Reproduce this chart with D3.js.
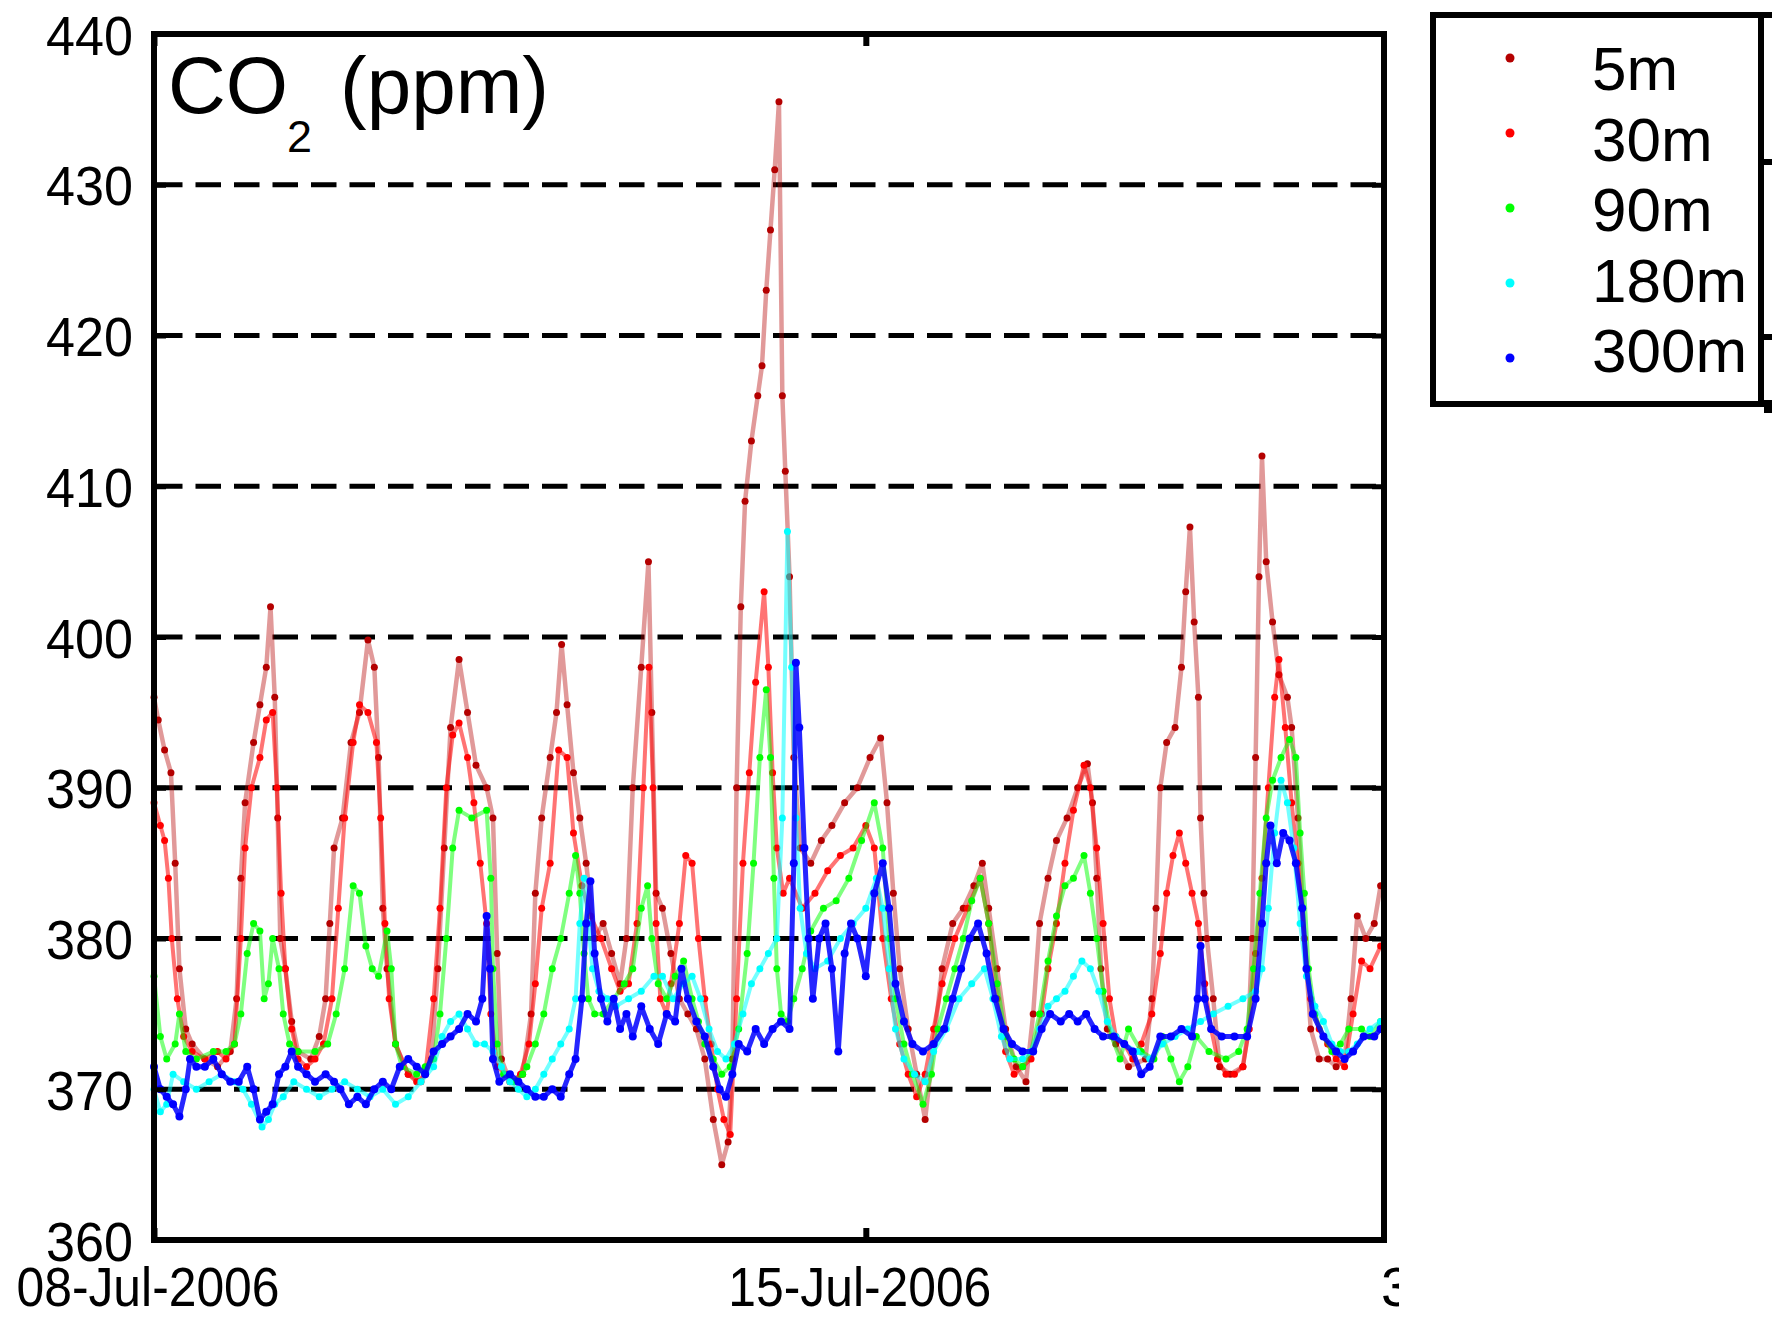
<!DOCTYPE html>
<html>
<head>
<meta charset="utf-8">
<script src="https://cdn.jsdelivr.net/npm/d3@7/dist/d3.min.js"></script>
<style>
body { margin: 0; background: #fff; }
svg { display: block; }
</style>
</head>
<body>
<svg id="chart" width="1787" height="1326"></svg>
<script>
// series names / colours (legend order)
var names = ["5m", "30m", "90m", "180m", "300m"];
var colors = ["#b40000", "#ff0000", "#00ff00", "#00ffff", "#0000ff"];

// axis ticks
var yTicks = [360, 370, 380, 390, 400, 410, 420, 430, 440];
var gridTicks = [370, 380, 390, 400, 410, 420, 430];
var xTickDays = ["2006-07-08", "2006-07-15"];

// CO2 readings: [hours since 08-Jul-2006 00:00, ppm]
var s5m = [[0,396],[1,394.5],[2.5,392.5],[4,391],[5,385],[6,378],[7.5,374],[9,373],[12,372],[15,371.5],[18,372.5],[19.5,376],[20.5,384],[21.5,389],[23.5,393],[25,395.5],[26.5,398],[27.5,402],[28.5,396],[29.2,388],[29.8,380],[31,378],[32.5,374.5],[34,372.5],[37,372],[39,373.5],[40.5,376],[41.5,381],[42.5,386],[44.5,388],[46.5,393],[48.5,395],[50.5,399.8],[52,398],[53,392],[54,382],[55,378],[57,373],[60,371],[63,370.5],[65.5,372],[67,378],[68.5,386],[70,394],[72,398.5],[74,395],[76,391.5],[78.5,390],[80,388],[81,379],[82,372],[84,370.5],[87,371],[89,375],[90,383],[91.5,388],[93.5,392],[95,395],[96.2,399.5],[97.5,395.5],[99,391],[100.5,388],[102,385],[104,380],[106,381],[108,379],[110,377],[111.5,380],[113,390],[115,398],[116.7,405],[117.5,395],[118.5,383],[120,382],[122,379],[124,376],[126,375],[128,374],[130,372],[132,368],[134,365],[135.5,366.5],[136.5,372],[137.5,390],[138.5,402],[139.5,409],[141,413],[142.5,416],[143.5,418],[144.5,423],[145.5,427],[146.5,431],[147.5,435.5],[148.3,416],[149,411],[150,404],[151,392],[152.5,386],[155,385],[157.5,386.5],[160,387.5],[163,389],[166,390],[169,392],[171.5,393.3],[173,389],[174.5,383],[176,378],[178,374],[180,371],[182,368],[184,373],[186,378],[188.5,381],[191,382],[193.5,383.5],[195.5,385],[197,382],[199,378],[201,374],[203.5,371.5],[205.8,370.5],[207.5,375],[209,381],[211,384],[213,386.5],[215.5,388],[218,390],[220.3,391.6],[221.5,389],[222.5,384],[223.5,378],[225,374],[227,373],[230,371.5],[234,372],[235.5,376],[236.5,382],[237.5,390],[239,393],[241,394],[242.5,398],[243.5,403],[244.5,407.3],[245.5,401],[246.5,396],[247,388],[247.8,383],[248.5,380],[250,376],[251.5,371.5],[254,371],[257,371.5],[258.3,374],[259.2,380],[260,392],[260.8,404],[261.5,412],[262.5,405],[264,401],[265.5,397.5],[267.5,396],[268.5,394],[270,388],[271.5,380],[273,374],[275,372],[277,372],[279,371.5],[281,372],[282.5,376],[284,381.5],[286,380],[288,381],[289.5,383.5]];

var s30m = [[0,389],[1.5,387.5],[2.5,386.5],[3.4,384],[4.2,380],[5.5,376],[7,373.5],[9,372.5],[12,372],[15,372.5],[17,372],[19,373],[20.5,380],[21.5,386],[23,390],[25,392],[26.5,394.5],[28,395],[29,390],[30,383],[31,378],[32.5,374],[34,372],[36,371.5],[38,372],[40,373],[42,376],[43.5,382],[45,388],[47,393],[48.5,395.5],[50.5,395],[52.5,393],[53.5,388],[54.5,381],[55.5,376],[57,373],[60,371],[62,370.5],[64,371],[66,376],[67.5,382],[69,390],[70.5,393.5],[72,394.3],[74,392],[75.5,389],[77,385],[78.5,381],[79.5,375],[81,371.5],[83,371],[85,370.5],[86.5,371],[88.5,373],[90,377],[91.5,382],[93.5,385],[95.5,392.5],[97.5,392],[99,387],[101,383.5],[103,381.5],[105.5,380],[108,378],[110,376.5],[112,377],[114,381],[115.5,390],[116.8,398],[117.8,390],[118.5,381],[119.5,376],[121,375],[122,377],[124,381],[125.5,385.5],[127,385],[128.5,380],[130,376],[131.5,373],[133,370],[134.5,368],[136,367],[137.5,376],[139,385],[140.5,391],[142,397],[144,403],[145,398],[146,391],[147,386],[148.5,383],[150,384],[153,382],[156,383],[159,384.5],[162,385.5],[165,386],[168,387.5],[170,386],[172,380],[174,376],[176,373],[178,371],[180,369.5],[182,371],[184,374],[186,377],[189,380],[192,382],[195,384],[197,381],[199,376],[201,372.5],[203,371],[205,371.5],[207,372],[209.5,375],[211,378],[213,381],[215,385],[217,388.5],[219.5,391.5],[221,390],[222.5,386],[224,381],[225.5,376],[227,373.5],[229,373],[231,372],[233,373],[235.5,375],[237.5,379],[239,383],[240.5,385.5],[242,387],[243.5,385],[245,383],[246.5,381],[248,377],[249.5,374],[251,372],[253,371],[255,371],[257,371.5],[258.5,374],[260,379],[261.5,384],[263,390],[264.5,396],[265.5,398.5],[267,394],[268.5,389],[270,385],[271.5,380],[273,376],[275,374],[277,373],[279,372],[281,371.5],[283,375],[285,378.5],[287,378],[289.5,379.5]];

var s90m = [[0,377.5],[1.5,373.5],[3,372],[5,373],[6,375],[7.5,372.5],[10,372],[14,372.5],[17,372.5],[19,373],[20.5,375],[22,379],[23.5,381],[25,380.5],[26,376],[27,377],[28,380],[29.5,378],[30.5,375],[32,373],[34,372.5],[38,372.5],[41,373],[43,375],[45,378],[47,383.5],[48.5,383],[50,379.5],[51.5,378],[53,377.5],[55,380.5],[56,378],[57,373],[58.5,371.5],[62,371],[64,371.5],[66,372],[67.5,375],[69,380],[70.5,386],[72,388.5],[75,388],[78.5,388.5],[79.5,384],[80,378],[81,373],[82.5,371],[85,370.5],[87,371],[88,371.5],[90,373],[92,375],[94,378],[96,380],[98,383],[99.5,385.5],[100.5,383],[101.5,379],[102.5,376],[104,375],[106,375],[108.5,376],[111,377],[113,378],[115,382],[116.5,383.5],[117.5,380],[119,377],[121,376],[123,377.5],[125,378.5],[127,376],[128.5,374.5],[130,373],[132,372],[134,371],[136,371.5],[138,374],[140,379],[141.5,385],[143,392],[144.5,396.5],[145.5,392],[146.3,384],[147,378],[148,375],[149.5,374.5],[151,376],[153,378],[155,380.5],[158,382],[161,382.5],[164,384],[167,386.5],[170,389],[172,386],[173.5,380],[175,376],[177,373],[179,371],[181.5,369],[183.5,371],[185,374],[187,376],[189,378],[191,380],[193,382.5],[195,384],[197,381],[199,377],[201,373.5],[203,372],[205,371.5],[207,372.5],[209,375],[211,378.5],[213,381.5],[215,383.5],[217,384],[219.5,385.5],[221,383],[222.5,380],[224,376.5],[226,373.5],[228,372],[230,374],[233,372.5],[236,372],[238,373.5],[240,372],[242,370.5],[244,371.5],[246,373.5],[249,372.5],[253,372],[256,372.5],[258,374],[259.5,378],[261,383],[262.5,388],[264,390.5],[266,392],[268,393.2],[269.5,392],[270.5,387],[271.5,383],[272.5,378],[274,375],[276,373.5],[278,372.5],[280,373],[282,374],[285,374],[287,373.5],[289.5,374.5]];

var s180m = [[0,370],[1.5,368.5],[3,369],[4.5,371],[7,370.5],[10,370],[13,370.5],[16,371],[19,370.5],[21,370],[23,369],[25.5,367.5],[27,368],[28.5,369],[30.5,369.5],[33,370.5],[36,370],[39,369.5],[42,370],[45,370.5],[48,370],[51,369.5],[54,370],[57,369],[60,369.5],[63,370.5],[66,371.5],[68,373.5],[70,374.5],[72,375],[74,374],[76,373],[78,373],[80,372.5],[82,371.5],[84,370.5],[86,370],[88,369.5],[90,370],[92,371],[94,372],[96,373],[98,374],[99.5,376],[100.5,381],[101.5,384],[102.5,381],[103.5,378],[105,376.5],[107,376],[109,375.5],[112,376],[115,376.5],[118,377.5],[120,377.5],[122.5,376],[125,377],[127,377.5],[129,376],[131,374],[133,372.5],[135,372],[137,373],[139,375],[141,377],[143,378],[145,379],[147,380],[148.3,388],[149.5,407],[150.5,398],[151.5,388],[152.5,382],[154,379],[156,378],[159,378.5],[162,380],[165,381],[168,382],[170.5,384],[172,382],[173.5,378],[175,374],[177,372],[179.5,371],[182,370.5],[184,372.5],[187,374],[190,376],[193,377],[196,378],[198,376],[200,373.5],[202,372],[205,372],[207,372.5],[209,374],[211,375.5],[213,376],[215,376.5],[217,377.5],[219,378.5],[221,378],[223,376.5],[225,374.5],[227,373.5],[229,373],[232,372.5],[235,372],[238,373],[241,373.5],[244,374],[247,374.5],[250,375],[253.5,375.5],[257,376],[260,376.5],[261.5,378],[263,382],[264.5,387],[266,390.5],[267.5,389],[269,386],[270.5,381],[272,377.5],[274,375.5],[276,374.5],[278,373],[280,372.5],[282,372.5],[284,373],[287,374],[289.5,374.5]];

var s300m = [[0,371.5],[1.5,370],[3,369.5],[4.5,369],[6,368.2],[7.5,370],[8.5,372],[10,371.5],[12,371.5],[14,372],[16,371],[18,370.5],[20,370.5],[22,371.5],[23.5,370],[25,368],[26.5,368.5],[28,369],[29.5,371],[31,371.5],[32.5,372.5],[34,371.5],[36,371],[38,370.5],[40.5,371],[42.5,370.5],[44,370],[46,369],[48,369.5],[50,369],[52,370],[54,370.5],[56,370],[58,371.5],[60,372],[62,371.5],[64,371],[66,372.5],[68,373],[70,373.5],[72,374],[74,375],[76,374.5],[77.5,376],[78.5,381.5],[79.3,378],[80,372],[81.5,370.5],[84,371],[86,370.5],[88,370],[90,369.5],[92,369.5],[94,370],[96,369.5],[98,371],[99.5,372],[101,376],[102,381],[103,383.8],[104,379],[105.5,376],[107,374.5],[108.5,376],[110,374],[111.5,375],[113,373.5],[115,375.5],[117,374],[119,373],[121,375],[123,374.5],[124.5,378],[126,376],[128,374.5],[130,373.5],[132,371.5],[133.5,370],[135,369.5],[136.5,371],[138,373],[140,372.5],[142,374],[144,373],[146,374],[148,374.5],[150,374],[151,385],[151.5,398.3],[152.3,394],[153.5,386],[154.5,380],[155.5,376],[157,380],[158.5,381],[160,378],[161.5,372.5],[163,379],[164.5,381],[166,380],[168,377.5],[170,383],[172,385],[173.5,382],[175,377],[177,374.5],[179,373],[181.5,372.5],[184,373],[186.5,374],[188.5,376],[190.5,378],[192.5,380],[194.5,381],[196.5,379],[198.5,376],[200.5,374],[202.5,373],[205,372.5],[207.5,372.5],[209.5,374],[211.5,375],[214,374.5],[216,375],[218,374.5],[220,375],[222,374],[224,373.5],[226.5,373.5],[229,373],[231,372.5],[233,371],[235,371.5],[237.5,373.5],[240,373.5],[242.5,374],[245,373.5],[246.3,376],[247,379.5],[248,376],[249.5,374],[252,373.5],[255,373.5],[258,373.5],[260,376],[261.5,381],[262.5,385],[263.5,387.5],[265,385],[266.5,387],[268,386.5],[269.5,385],[271,382],[272,378],[273.5,375],[276,373.5],[279,372.5],[281,372],[283,372.5],[285.5,373.5],[288,373.5],[289.5,374]];

var allSeries = [s5m, s30m, s90m, s180m, s300m];

var font = "'Liberation Sans', Arial, Helvetica, sans-serif";
var svg = d3.select("#chart");

// plot box (pixels)
var plotLeft = 154, plotRight = 1384, plotTop = 34, plotBottom = 1240;
var t0 = Date.UTC(2006, 6, 8);
function toDate(h) { return new Date(t0 + h * 3600e3); }

var x = d3.scaleUtc()
    .domain([toDate(0), toDate(290.3)])
    .range([plotLeft, plotRight]);
var y = d3.scaleLinear()
    .domain([360, 440])
    .range([plotBottom, plotTop]);

// dashed grid
svg.append("g")
    .selectAll("line")
    .data(gridTicks)
    .enter()
    .append("line")
    .attr("x1", plotLeft + 3)
    .attr("x2", plotRight - 3)
    .attr("y1", function (d) { return y(d); })
    .attr("y2", function (d) { return y(d); })
    .attr("stroke", "#000")
    .attr("stroke-width", 5)
    .attr("stroke-dasharray", "25.5,13");

// series: blurred-looking connecting line + dots
var line = d3.line()
    .x(function (d) { return x(toDate(d[0])); })
    .y(function (d) { return y(d[1]); });

var lineOpacity = [0.4, 0.55, 0.5, 0.55, 0.85];
var lineWidth = [4.5, 4, 4, 4, 5];
var dotR = [3.5, 3.5, 3.5, 3.5, 4];
allSeries.forEach(function (s, i) {
    var g = svg.append("g");
    g.append("path")
        .datum(s)
        .attr("d", line)
        .attr("fill", "none")
        .attr("stroke", colors[i])
        .attr("stroke-opacity", lineOpacity[i])
        .attr("stroke-width", lineWidth[i])
        .attr("stroke-linejoin", "round");
    g.selectAll("circle")
        .data(s)
        .enter()
        .append("circle")
        .attr("cx", function (d) { return x(toDate(d[0])); })
        .attr("cy", function (d) { return y(d[1]); })
        .attr("r", dotR[i])
        .attr("fill", colors[i]);
});

// axes (ticks point inward)
var xDates = xTickDays.map(function (d) { return new Date(d + "T00:00:00Z"); });

var gy = svg.append("g")
    .attr("transform", "translate(" + plotLeft + ",0)")
    .call(d3.axisLeft(y).tickValues(yTicks).tickSize(-12));
gy.select(".domain").remove();
gy.attr("font-family", font).attr("font-size", 56);
gy.selectAll(".tick line").attr("stroke", "#000").attr("stroke-width", 5);
gy.selectAll(".tick text")
    .attr("fill", "#000")
    .attr("x", -21)
    .attr("dy", "0.36em")
    .attr("textLength", 87)
    .attr("lengthAdjust", "spacingAndGlyphs");

var gyr = svg.append("g")
    .attr("transform", "translate(" + plotRight + ",0)")
    .call(d3.axisRight(y).tickValues(yTicks).tickSize(-12).tickFormat(""));
gyr.select(".domain").remove();
gyr.selectAll(".tick line").attr("stroke", "#000").attr("stroke-width", 5);

var gx = svg.append("g")
    .attr("transform", "translate(0," + plotBottom + ")")
    .call(d3.axisBottom(x).tickValues(xDates).tickSize(-12).tickFormat(d3.utcFormat("%d-%b-%Y")));
gx.select(".domain").remove();
gx.attr("font-family", font).attr("font-size", 56);
gx.selectAll(".tick line").attr("stroke", "#000").attr("stroke-width", 6);
gx.selectAll(".tick text")
    .attr("fill", "#000")
    .attr("x", -6.5)
    .attr("y", 66)
    .attr("dy", 0)
    .attr("textLength", 263)
    .attr("lengthAdjust", "spacingAndGlyphs");

var gxt = svg.append("g")
    .attr("transform", "translate(0," + plotTop + ")")
    .call(d3.axisTop(x).tickValues(xDates).tickSize(-12).tickFormat(""));
gxt.select(".domain").remove();
gxt.selectAll(".tick line").attr("stroke", "#000").attr("stroke-width", 6);

// frame
svg.append("rect")
    .attr("x", plotLeft).attr("y", plotTop)
    .attr("width", plotRight - plotLeft).attr("height", plotBottom - plotTop)
    .attr("fill", "none")
    .attr("stroke", "#000")
    .attr("stroke-width", 6);

// clipped label fragment at the right end of the x axis
svg.append("clipPath").attr("id", "cut")
    .append("rect").attr("x", 1378).attr("y", 1250).attr("width", 21).attr("height", 70);
svg.append("text")
    .attr("clip-path", "url(#cut)")
    .attr("x", 1381).attr("y", 1306)
    .attr("font-family", font).attr("font-size", 56)
    .text("3");

// title inside plot
var title = svg.append("text")
    .attr("font-family", font)
    .attr("fill", "#000")
    .attr("x", 168).attr("y", 113);
title.append("tspan").attr("font-size", 80).text("CO");
title.append("tspan").attr("x", 287).attr("dy", 39).attr("font-size", 45).text("2");
title.append("tspan").attr("x", 340).attr("dy", -39).attr("font-size", 80).text("(ppm)");

// neighbouring axes peeking out behind the legend
var edge = svg.append("g").attr("fill", "#000");
edge.append("rect").attr("x", 1758).attr("y", 12).attr("width", 14).attr("height", 6);
edge.append("rect").attr("x", 1764).attr("y", 159).attr("width", 8).attr("height", 6);
edge.append("rect").attr("x", 1764).attr("y", 334).attr("width", 8).attr("height", 6);
edge.append("rect").attr("x", 1764).attr("y", 400).attr("width", 8).attr("height", 13);

// legend
var legend = svg.append("g");
legend.append("rect")
    .attr("x", 1433).attr("y", 15)
    .attr("width", 328).attr("height", 389)
    .attr("fill", "#fff")
    .attr("stroke", "#000")
    .attr("stroke-width", 6);

legend.selectAll("circle")
    .data(colors)
    .enter()
    .append("circle")
    .attr("cx", 1510)
    .attr("cy", function (d, i) { return 58 + i * 75; })
    .attr("r", 4.5)
    .attr("fill", function (d) { return d; });

legend.selectAll("text")
    .data(names)
    .enter()
    .append("text")
    .attr("x", 1592)
    .attr("y", function (d, i) { return 68 + i * 70.5; })
    .attr("dy", "0.36em")
    .attr("font-family", font)
    .attr("font-size", 62)
    .attr("fill", "#000")
    .text(function (d) { return d; });
</script>
</body>
</html>
